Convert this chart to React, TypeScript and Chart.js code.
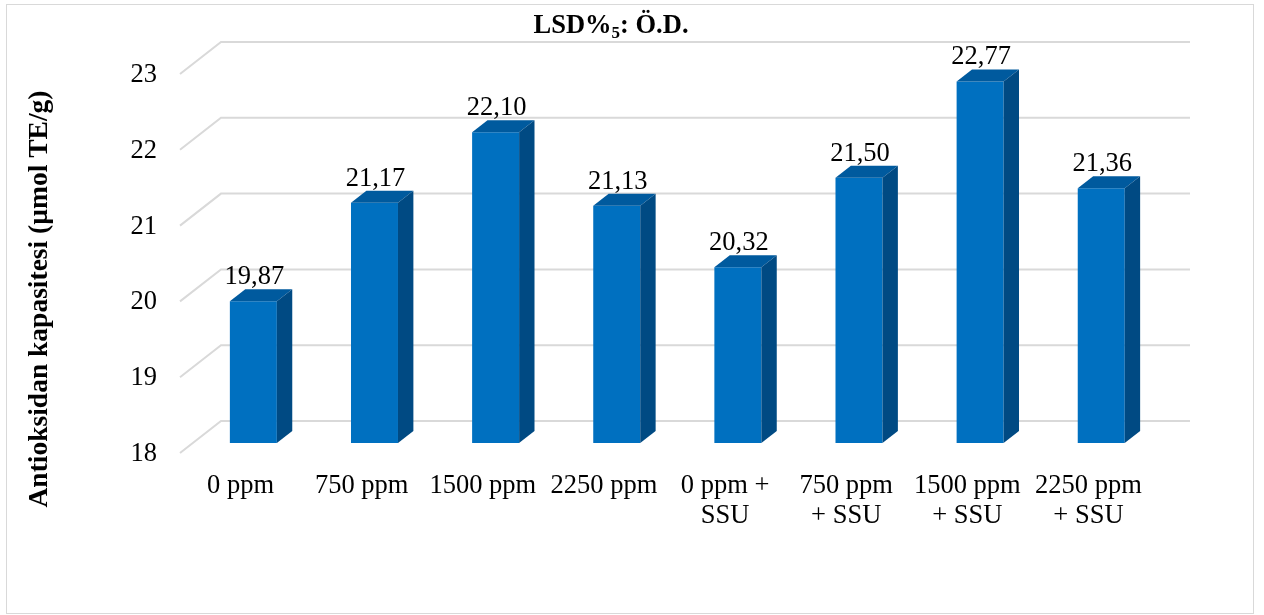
import React, { useEffect, useRef } from "react";
import { Chart, registerables } from "chart.js";

Chart.register(...registerables);

// Treatments (multi-line labels) and measured antioxidant capacity
const categories: string[][] = [
  ["0 ppm"],
  ["750 ppm"],
  ["1500 ppm"],
  ["2250 ppm"],
  ["0 ppm +", "SSU"],
  ["750 ppm", "+ SSU"],
  ["1500 ppm", "+ SSU"],
  ["2250 ppm", "+ SSU"],
];
const values: number[] = [19.87, 21.17, 22.1, 21.13, 20.32, 21.5, 22.77, 21.36];
const yTicks: number[] = [18, 19, 20, 21, 22, 23];

const axisTitle = "Antioksidan kapasitesi (µmol TE/g)";

// 3D look: depth of the walls and of each bar
const WALL_DX = 41;
const WALL_DY = -32;
const BAR_DX = 12.8; // front face of bars sits inside the floor
const BAR_DY = -10;
const SIDE_DX = 15.4;
const SIDE_DY = -12;

const FONT = '"Liberation Serif", "Times New Roman", serif';
const FS = 26.5;
const GRID = "#D9D9D9";
const FRONT = "#0070C0";
const TOP = "#005A9E";
const SIDE = "#004A83";

const fmt = (v: number) => v.toFixed(2).replace(".", ",");

const depthPlugin = {
  id: "depth3d",
  beforeDatasetsDraw(chart: any) {
    const { ctx, chartArea, scales } = chart;
    const y = scales.y;

    // outer frame
    ctx.save();
    ctx.strokeStyle = GRID;
    ctx.lineWidth = 1;
    ctx.strokeRect(6.5, 4.5, 1247, 609);
    ctx.restore();

    // side-wall slants and back-wall gridlines
    ctx.save();
    ctx.strokeStyle = GRID;
    ctx.lineWidth = 2;
    for (const t of yTicks) {
      const yf = y.getPixelForValue(t);
      ctx.beginPath();
      ctx.moveTo(chartArea.left, yf);
      ctx.lineTo(chartArea.left + WALL_DX, yf + WALL_DY);
      ctx.lineTo(chartArea.right + WALL_DX, yf + WALL_DY);
      ctx.stroke();
    }
    ctx.restore();

    // bars are drawn one step into the depth
    ctx.save();
    ctx.translate(BAR_DX, BAR_DY);
  },
  afterDatasetsDraw(chart: any) {
    const { ctx, chartArea, scales } = chart;
    const meta = chart.getDatasetMeta(0);

    meta.data.forEach((el: any, i: number) => {
      const { x, y, base, width } = el.getProps(["x", "y", "base", "width"], true);
      const l = x - width / 2;
      const r = x + width / 2;
      // top face
      ctx.fillStyle = TOP;
      ctx.beginPath();
      ctx.moveTo(l, y);
      ctx.lineTo(r, y);
      ctx.lineTo(r + SIDE_DX, y + SIDE_DY);
      ctx.lineTo(l + SIDE_DX, y + SIDE_DY);
      ctx.closePath();
      ctx.fill();
      // side face
      ctx.fillStyle = SIDE;
      ctx.beginPath();
      ctx.moveTo(r, y);
      ctx.lineTo(r + SIDE_DX, y + SIDE_DY);
      ctx.lineTo(r + SIDE_DX, base + SIDE_DY);
      ctx.lineTo(r, base);
      ctx.closePath();
      ctx.fill();
      // value label
      ctx.fillStyle = "#000";
      ctx.font = `${FS}px ${FONT}`;
      ctx.textAlign = "center";
      ctx.textBaseline = "alphabetic";
      ctx.fillText(fmt(values[i]), x + 1, y - 17);
    });
    ctx.restore();

    // y tick labels
    ctx.save();
    ctx.fillStyle = "#000";
    ctx.font = `${FS}px ${FONT}`;
    ctx.textAlign = "right";
    ctx.textBaseline = "middle";
    for (const t of yTicks) {
      ctx.fillText(String(t), chartArea.left - 23, scales.y.getPixelForValue(t) + 1);
    }

    // category labels
    ctx.textAlign = "center";
    ctx.textBaseline = "alphabetic";
    categories.forEach((lines, i) => {
      const cx = scales.x.getPixelForValue(i);
      lines.forEach((s, k) => {
        ctx.fillText(s, cx, 493 + k * 30);
      });
    });

    // title with subscript
    ctx.textAlign = "left";
    const p1 = "LSD%";
    const p2 = "5";
    const p3 = ": Ö.D.";
    ctx.font = `bold ${FS}px ${FONT}`;
    const w1 = ctx.measureText(p1).width;
    const w3 = ctx.measureText(p3).width;
    ctx.font = `bold 17px ${FONT}`;
    const w2 = ctx.measureText(p2).width;
    const total = w1 + w2 + w3;
    let tx = 611 - total / 2;
    ctx.font = `bold ${FS}px ${FONT}`;
    ctx.fillText(p1, tx, 33);
    tx += w1;
    ctx.font = `bold 17px ${FONT}`;
    ctx.fillText(p2, tx, 38);
    tx += w2;
    ctx.font = `bold ${FS}px ${FONT}`;
    ctx.fillText(p3, tx, 33);

    // y axis title
    ctx.translate(40, 299);
    ctx.rotate(-Math.PI / 2);
    ctx.textAlign = "center";
    ctx.textBaseline = "middle";
    ctx.font = `bold 27.5px ${FONT}`;
    ctx.fillText(axisTitle, 0, 0);
    ctx.restore();
  },
};

export default function App() {
  const canvasRef = useRef<HTMLCanvasElement | null>(null);

  useEffect(() => {
    if (!canvasRef.current) return;
    const chart = new Chart(canvasRef.current, {
      type: "bar",
      data: {
        labels: categories.map((c) => c.join(" ")),
        datasets: [
          {
            data: values,
            base: 18,
            backgroundColor: FRONT,
            borderWidth: 0,
            barPercentage: 0.388,
            categoryPercentage: 1,
          } as any,
        ],
      },
      options: {
        responsive: false,
        animation: false,
        layout: { padding: { left: 180, right: 115, top: 74, bottom: 162 } },
        plugins: {
          legend: { display: false },
          tooltip: { enabled: false },
          title: { display: false },
        },
        scales: {
          x: { display: false, offset: true },
          y: { display: false, min: 18, max: 23 },
        },
      },
      plugins: [depthPlugin],
    });
    return () => chart.destroy();
  }, []);

  return (
    <div style={{ position: "fixed", left: 0, top: 0, width: 1264, height: 615, background: "#fff" }}>
      <canvas ref={canvasRef} width={1264} height={615} style={{ display: "block" }} />
    </div>
  );
}
